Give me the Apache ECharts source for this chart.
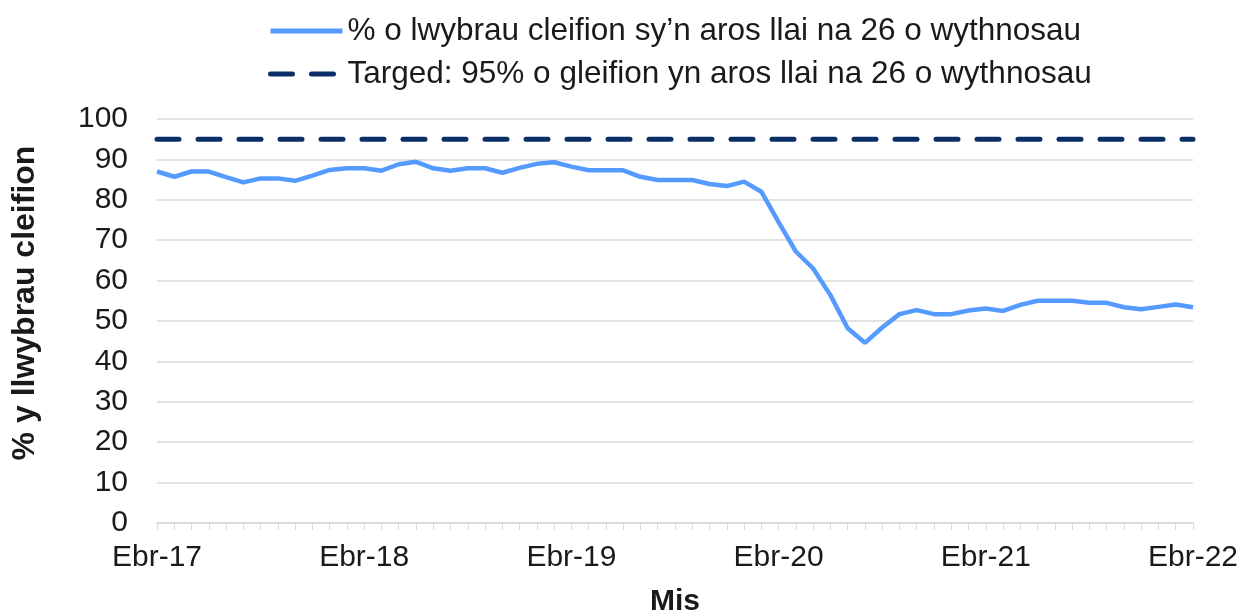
<!DOCTYPE html>
<html>
<head>
<meta charset="utf-8">
<script src="https://cdn.jsdelivr.net/npm/echarts@6/dist/echarts.min.js"></script>
<style>
  html, body { margin: 0; padding: 0; background: #fff; }
  #chart { width: 1243px; height: 615px; }
</style>
</head>
<body>
<div id="chart"></div>
<script>
// misoedd Cymraeg, Ebr-17 .. Ebr-22
var monthNames = ['Ebr','Mai','Meh','Gor','Aws','Med','Hyd','Tach','Rhag','Ion','Chwef','Maw'];
var startYear = 17;

// % o lwybrau cleifion sy'n aros llai na 26 o wythnosau
var waitValues = [
    87.0, 85.7, 87.0, 87.0, 85.6, 84.3, 85.3, 85.3, 84.7, 86.0, 87.4, 87.8,
    87.8, 87.2, 88.8, 89.4, 87.8, 87.2, 87.8, 87.8, 86.7, 87.9, 88.9, 89.3,
    88.2, 87.3, 87.3, 87.3, 85.7, 84.9, 84.9, 84.9, 83.9, 83.4, 84.5, 82.0,
    74.5, 67.2, 63.0, 56.4, 48.2, 44.6, 48.4, 51.7, 52.7, 51.7, 51.7, 52.6,
    53.1, 52.5, 54.0, 55.0, 55.0, 55.0, 54.5, 54.5, 53.4, 52.9, 53.5, 54.1,
    53.4
];
var targetValue = 95;

var seriesNames = [
    '% o lwybrau cleifion sy\u2019n aros llai na 26 o wythnosau',
    'Targed: 95% o gleifion yn aros llai na 26 o wythnosau'
];

var categories = [];
for (var i = 0; i < waitValues.length; i++) {
    var yr = startYear + Math.floor((i + 3) / 12);
    categories.push(monthNames[i % 12] + '-' + yr);
}
var targetValues = waitValues.map(function () { return targetValue; });

var FONT = 'Liberation Sans, Arial, sans-serif';

var Echarts = echarts.init(document.getElementById('chart'));
var option = {
    animation: false,
    textStyle: { fontFamily: FONT },
    legend: {
        orient: 'vertical',
        left: 268,
        top: 15,
        padding: 0,
        itemWidth: 72,
        itemHeight: 14,
        itemGap: 11,
        itemStyle: { opacity: 0 },
        lineStyle: { width: 5 },
        textStyle: { fontFamily: FONT, fontSize: 31.5, color: '#1a1a1a' },
        data: seriesNames
    },
    grid: {
        left: 157,
        right: 50,
        top: 119,
        bottom: 92,
        outerBoundsMode: 'none'
    },
    xAxis: {
        type: 'category',
        boundaryGap: false,
        data: categories,
        name: 'Mis',
        nameLocation: 'middle',
        nameGap: 64,
        nameTextStyle: { fontFamily: FONT, fontSize: 30, fontWeight: 'bold', color: '#1a1a1a' },
        axisLine: { lineStyle: { color: '#d9d9d9', width: 1.5 } },
        axisTick: { show: true, interval: 0, length: 7, lineStyle: { color: '#d9d9d9' } },
        axisLabel: { interval: 11, fontSize: 30, color: '#1a1a1a', margin: 20, fontFamily: FONT },
        splitLine: { show: false }
    },
    yAxis: {
        type: 'value',
        min: 0,
        max: 100,
        interval: 10,
        name: '% y llwybrau cleifion',
        nameLocation: 'middle',
        nameRotate: 90,
        nameGap: 116,
        nameTextStyle: { fontFamily: FONT, fontSize: 32, fontWeight: 'bold', color: '#1a1a1a', padding: [0, 0, 0, 36] },
        axisLine: { show: false },
        axisTick: { show: false },
        axisLabel: { fontSize: 30, color: '#1a1a1a', margin: 29, fontFamily: FONT },
        splitLine: { lineStyle: { color: '#d9d9d9', width: 1.5 } }
    },
    series: [
        {
            name: seriesNames[0],
            type: 'line',
            symbol: 'none',
            data: waitValues,
            lineStyle: { color: '#559bff', width: 4.5 },
            itemStyle: { color: '#559bff' }
        },
        {
            name: seriesNames[1],
            type: 'line',
            symbol: 'none',
            data: targetValues,
            lineStyle: { color: '#0b2e66', width: 5, type: [22, 19], cap: 'round' },
            itemStyle: { color: '#0b2e66' }
        }
    ]
};
Echarts.setOption(option);
window.addEventListener('resize', Echarts.resize);
</script>
</body>
</html>
